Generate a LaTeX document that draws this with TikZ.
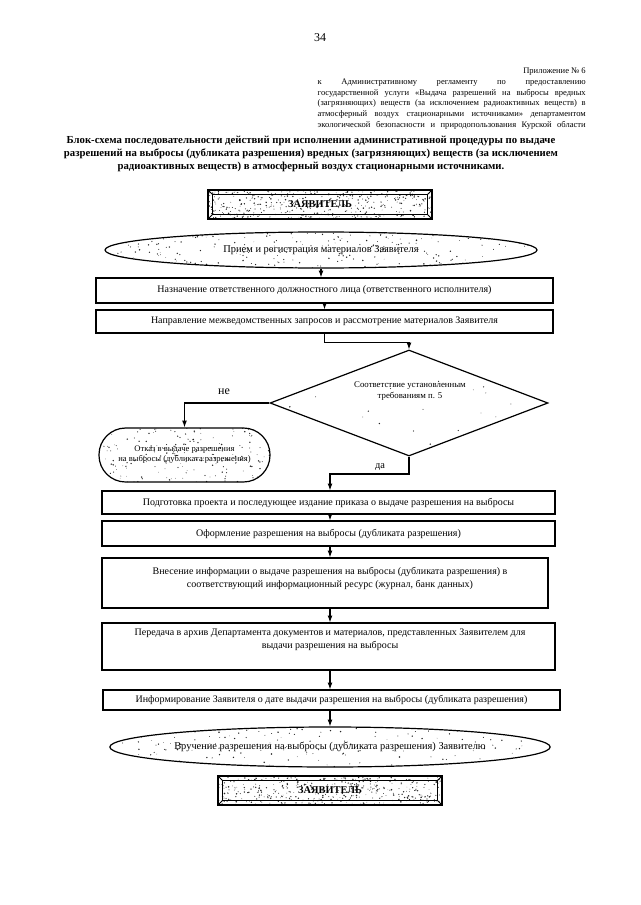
\documentclass[tikz,border=0pt]{standalone}
\usepackage{fontspec}
\setmainfont{Liberation Serif}
\usetikzlibrary{shapes.geometric,arrows.meta,calc}

\newcommand{\myspeck}[5]{%
  \foreach \k in {1,...,#5}{%
    \pgfmathsetmacro{\spx}{#1+rnd*(#3-#1)}%
    \pgfmathsetmacro{\spy}{#2+rnd*(#4-#2)}%
    \pgfmathsetmacro{\spr}{0.22+0.4*rnd}%
    \fill[black!85] (\spx,\spy) circle[radius=\spr pt];
  }}

\tikzset{
  pbox/.style={draw, line width=0.9pt, inner sep=1pt, align=center,
    font=\fontsize{7.5pt}{9.5pt}\selectfont},
  ptext/.style={inner sep=0pt, align=center, font=\fontsize{7.5pt}{9.5pt}\selectfont},
  arr/.style={line width=0.8pt, -{Latex[length=5pt,width=3.6pt]}},
  bevel/.style={draw, line width=0.9pt, inner sep=0pt,
    font=\bfseries\fontsize{7.8pt}{9pt}\selectfont,
    minimum width=224*0.75pt, minimum height=29*0.75pt},
  oval/.style={draw, line width=0.9pt, ellipse, inner sep=0pt,
    font=\fontsize{7.8pt}{9.5pt}\selectfont},
  lbl/.style={inner sep=0pt},
}

\newcommand{\bevelframe}[1]{%
  \draw[line width=0.8pt] ($(#1.north west)+(5,5)$) rectangle ($(#1.south east)+(-5,-5)$);
  \draw[line width=0.6pt] (#1.north west) -- +(5,5) (#1.north east) -- +(-5,5)
    (#1.south west) -- +(5,-5) (#1.south east) -- +(-5,-5);}

\begin{document}
\begin{tikzpicture}[x=0.75pt,y=-0.75pt]
\useasboundingbox (0,0) rectangle (640,905);
\fill[white] (0,0) rectangle (640,905);
\pgfmathsetseed{4242}

% speckled textures
\begin{scope}
  \clip (208,190) rectangle (432,219);
  \myspeck{208}{190}{432}{219}{420}
\end{scope}
\begin{scope}
  \clip (321,250) ellipse [x radius=216, y radius=18];
  \myspeck{105}{232}{537}{268}{260}
\end{scope}
\begin{scope}
  \clip[rounded corners=20pt] (99,428) rectangle (270,482);
  \myspeck{99}{428}{270}{482}{190}
\end{scope}
\begin{scope}
  \clip (270,403) -- (408,350) -- (548,403) -- (408,456) -- cycle;
  \myspeck{270}{350}{548}{456}{28}
\end{scope}
\begin{scope}
  \clip (330,747) ellipse [x radius=215, y radius=20];
  \myspeck{115}{727}{545}{767}{170}
\end{scope}
\begin{scope}
  \clip (218,776) rectangle (442,805);
  \myspeck{218}{776}{442}{805}{420}
\end{scope}

% page number, header, title
\node[lbl, font=\fontsize{9pt}{10pt}\selectfont] (pnum) at (320,38) {34};
\node[lbl, anchor=north east, align=left, font=\fontsize{6.4pt}{8pt}\selectfont] (hdr) at (586,68) {%
  \makebox[201pt][r]{Приложение № 6}\\
  \makebox[201pt][s]{к Административному регламенту по предоставлению}\\
  \makebox[201pt][s]{государственной услуги «Выдача разрешений на выбросы вредных}\\
  \makebox[201pt][s]{(загрязняющих) веществ (за исключением радиоактивных веществ) в}\\
  \makebox[201pt][s]{атмосферный воздух стационарными источниками» департаментом}\\
  \makebox[201pt][s]{экологической безопасности и природопользования Курской области}};
\node[lbl, align=center, font=\bfseries\fontsize{8.05pt}{9.8pt}\selectfont] (title) at (311,154) {%
  Блок-схема последовательности действий при исполнении административной процедуры по выдаче\\
  разрешений на выбросы (дубликата разрешения) вредных (загрязняющих) веществ (за исключением\\
  радиоактивных веществ) в атмосферный воздух стационарными источниками.};

% flowchart nodes
\node[bevel] (zt) at (320,204.5) {ЗАЯВИТЕЛЬ};
\bevelframe{zt}
\node[oval, minimum width=432*0.75pt, minimum height=36*0.75pt] (ell1) at (321,250)
  {Прием и регистрация материалов Заявителя};
\node[pbox, minimum width=457*0.75pt, minimum height=25*0.75pt] (b1) at (324.5,290.5)
  {Назначение ответственного должностного лица (ответственного исполнителя)};
\node[pbox, minimum width=457*0.75pt, minimum height=23*0.75pt] (b2) at (324.5,321.5)
  {Направление межведомственных запросов и рассмотрение материалов Заявителя};
\node[draw, line width=0.9pt, diamond, aspect=2.62, inner sep=0pt,
  minimum width=278*0.75pt, minimum height=106*0.75pt] (dia) at (409,403) {};
\node[lbl, align=center, font=\fontsize{6.6pt}{7.8pt}\selectfont] (diat) at (410,391)
  {Соответствие установленным\\требованиям п. 5};
\node[draw, line width=0.9pt, rounded corners=20pt, inner sep=0pt, align=center,
  minimum width=171*0.75pt, minimum height=54*0.75pt,
  font=\fontsize{6.4pt}{7.6pt}\selectfont] (ref) at (184.5,455)
  {Отказ в выдаче разрешения\\на выбросы (дубликата разрешения)};
\node[pbox, minimum width=453*0.75pt, minimum height=23*0.75pt] (b3) at (328.5,502.5)
  {Подготовка проекта и последующее издание приказа о выдаче разрешения на выбросы};
\node[pbox, minimum width=453*0.75pt, minimum height=25*0.75pt] (b4) at (328.5,533.5)
  {Оформление разрешения на выбросы (дубликата разрешения)};
\node[draw, line width=0.9pt, minimum width=446*0.75pt, minimum height=50*0.75pt] (b5) at (325,583) {};
\node[ptext, anchor=north] (b5t) at (330,567)
  {Внесение информации о выдаче разрешения на выбросы (дубликата разрешения) в\\
   соответствующий информационный ресурс (журнал, банк данных)};
\node[draw, line width=0.9pt, minimum width=453*0.75pt, minimum height=47*0.75pt] (b6) at (328.5,646.5) {};
\node[ptext, anchor=north] (b6t) at (330,629)
  {Передача в архив Департамента документов и материалов, представленных Заявителем для\\
   выдачи разрешения на выбросы};
\node[pbox, minimum width=457*0.75pt, minimum height=20*0.75pt] (b7) at (331.5,700)
  {Информирование Заявителя о дате выдачи разрешения на выбросы (дубликата разрешения)};
\node[oval, minimum width=430*0.75pt, minimum height=40*0.75pt] (ell2) at (330,747)
  {Вручение разрешения на выбросы (дубликата разрешения) Заявителю};
\node[bevel] (zb) at (330,790.5) {ЗАЯВИТЕЛЬ};
\bevelframe{zb}

% labels
\node[lbl, font=\fontsize{9pt}{10pt}\selectfont] (ne) at (224,392) {не};
\node[lbl, font=\fontsize{7.8pt}{9pt}\selectfont] (da) at (380,467) {да};

% connectors
\coordinate (xa) at (330,0);
\coordinate (dacorner) at (330,474);
\draw[arr] (ell1.south) -- (ell1.south |- b1.north);
\draw[arr] (b1.south) -- (b1.south |- b2.north);
\draw[arr] (b2.south) -- ++(0,9) -| (dia.north);
\draw[arr] (dia.west) -| (ref.north);
\draw[arr] (dia.south) |- (dacorner) -- (dacorner |- b3.north);
\draw[arr] (b3.south -| xa) -- (b4.north -| xa);
\draw[arr] (b4.south -| xa) -- (b5.north -| xa);
\draw[arr] (b5.south -| xa) -- (b6.north -| xa);
\draw[arr] (b6.south -| xa) -- (b7.north -| xa);
\draw[arr] (b7.south -| xa) -- (ell2.north -| xa);
\end{tikzpicture}
\end{document}
